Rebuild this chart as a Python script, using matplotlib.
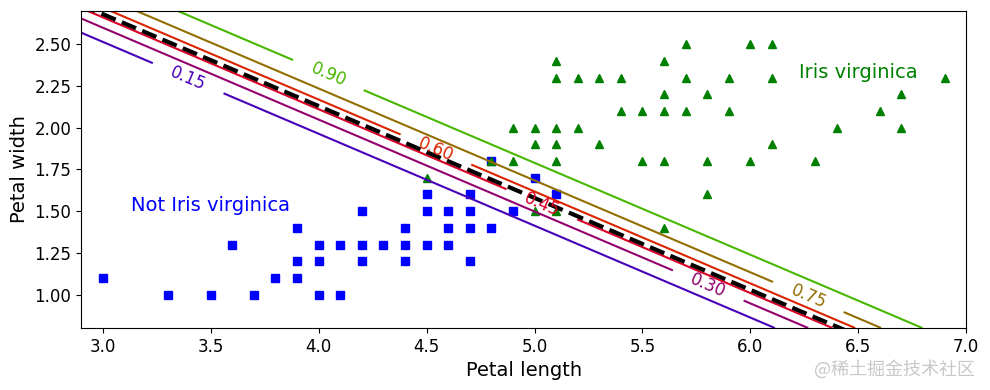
import numpy as np
import matplotlib.pyplot as plt

# petal length / petal width of the iris samples visible in the window
not_virginica_length = [3.0, 3.3, 3.5, 3.6, 3.7, 3.8, 3.9, 3.9, 3.9, 4.0, 4.0, 4.0,
                        4.1, 4.1, 4.2, 4.2, 4.2, 4.3, 4.4, 4.4, 4.4, 4.5, 4.5, 4.5,
                        4.6, 4.6, 4.6, 4.7, 4.7, 4.7, 4.7, 4.8, 4.8, 4.9, 5.0, 5.1]
not_virginica_width = [1.1, 1.0, 1.0, 1.3, 1.0, 1.1, 1.1, 1.2, 1.4, 1.0, 1.2, 1.3,
                       1.0, 1.3, 1.2, 1.3, 1.5, 1.3, 1.2, 1.3, 1.4, 1.3, 1.5, 1.6,
                       1.3, 1.4, 1.5, 1.2, 1.4, 1.5, 1.6, 1.4, 1.8, 1.5, 1.7, 1.6]

virginica_length = [5.7, 6.0, 6.1,
                    5.1, 5.6,
                    5.1, 5.2, 5.3, 5.4, 5.7, 5.9, 6.1, 6.9,
                    5.6, 5.8, 6.7,
                    5.4, 5.5, 5.6, 5.7, 5.9, 6.6,
                    4.9, 5.0, 5.1, 5.2, 6.4, 6.7,
                    5.0, 5.1, 5.3, 6.1,
                    4.8, 4.9, 5.1, 5.5, 5.6, 5.8, 6.0, 6.3,
                    4.5, 5.8, 5.0, 5.1, 5.6]
virginica_width = [2.5, 2.5, 2.5,
                   2.4, 2.4,
                   2.3, 2.3, 2.3, 2.3, 2.3, 2.3, 2.3, 2.3,
                   2.2, 2.2, 2.2,
                   2.1, 2.1, 2.1, 2.1, 2.1, 2.1,
                   2.0, 2.0, 2.0, 2.0, 2.0, 2.0,
                   1.9, 1.9, 1.9, 1.9,
                   1.8, 1.8, 1.8, 1.8, 1.8, 1.8, 1.8, 1.8,
                   1.7, 1.6, 1.5, 1.5, 1.4]

# logistic regression weights (petal length, petal width) and bias
coef = [5.753, 10.445]
intercept = -45.26
levels = [0.15, 0.30, 0.45, 0.60, 0.75, 0.90]

x0, x1 = np.meshgrid(np.linspace(2.9, 7, 500), np.linspace(0.8, 2.7, 200))
zz = 1 / (1 + np.exp(-(coef[0] * x0 + coef[1] * x1 + intercept)))

fig = plt.figure(figsize=(9.9, 3.9), dpi=100)
ax = fig.add_axes([0.082, 0.159, 0.894, 0.813])

ax.plot(not_virginica_length, not_virginica_width, "bs")
ax.plot(virginica_length, virginica_width, "g^")

contour = ax.contour(x0, x1, zz, levels=levels, cmap=plt.cm.brg, vmin=0, vmax=1.05)
# where the labels sit on each line
label_spots = [(3.40, 2.31), (5.81, 1.07), (5.04, 1.56), (4.55, 1.89), (6.27, 0.99), (4.05, 2.33)]
ax.clabel(contour, inline=1, fontsize=12, manual=label_spots, inline_spacing=20)

left_right = np.array([2.9, 7])
boundary = -(coef[0] * left_right + intercept) / coef[1]
ax.plot(left_right, boundary, "k--", linewidth=3)

ax.text(3.5, 1.5, "Not Iris virginica", fontsize=14, color="b", ha="center")
ax.text(6.5, 2.3, "Iris virginica", fontsize=14, color="g", ha="center")
ax.set_xlabel("Petal length", fontsize=14)
ax.set_ylabel("Petal width", fontsize=14)
ax.tick_params(labelsize=12)
ax.axis([2.9, 7, 0.8, 2.7])

fig.text(0.985, 0.04, "@稀土掘金技术社区", fontsize=13, color="#c8c8c8", ha="right",
         family=["Noto Sans CJK SC", "DejaVu Sans"])

plt.savefig("out.png")
